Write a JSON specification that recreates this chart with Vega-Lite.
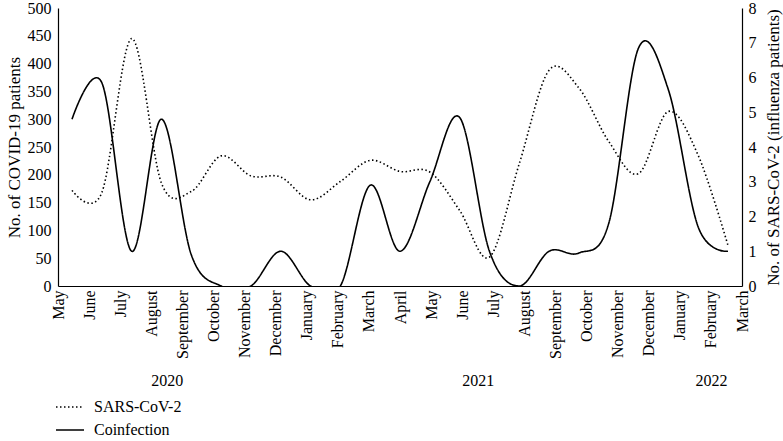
{
  "$schema": "https://vega.github.io/schema/vega-lite/v6.json",
  "width": 684,
  "height": 278,
  "autosize": {"type": "none"},
  "padding": {"left": 58, "top": 8, "right": 41, "bottom": 155},
  "config": {
    "font": "Liberation Serif",
    "view": {"stroke": null},
    "axis": {
      "labelFont": "Liberation Serif",
      "titleFont": "Liberation Serif",
      "labelFontSize": 16,
      "titleFontSize": 17,
      "titleFontWeight": "normal",
      "labelColor": "black",
      "titleColor": "black",
      "domainColor": "black",
      "domainWidth": 1.2,
      "tickColor": "black",
      "grid": false,
      "ticks": false
    }
  },
  "datasets": {
    "monthly": [
      {"month": "May 2020", "sars": 172, "coinf": 4.8},
      {"month": "June 2020", "sars": 168, "coinf": 5.85},
      {"month": "July 2020", "sars": 445, "coinf": 1},
      {"month": "August 2020", "sars": 185, "coinf": 4.8},
      {"month": "September 2020", "sars": 170, "coinf": 0.9},
      {"month": "October 2020", "sars": 234, "coinf": 0},
      {"month": "November 2020", "sars": 198, "coinf": 0},
      {"month": "December 2020", "sars": 196, "coinf": 1},
      {"month": "January 2021", "sars": 155, "coinf": 0},
      {"month": "February 2021", "sars": 188, "coinf": 0},
      {"month": "March 2021", "sars": 226, "coinf": 2.9},
      {"month": "April 2021", "sars": 206, "coinf": 1},
      {"month": "May 2021", "sars": 205, "coinf": 3},
      {"month": "June 2021", "sars": 136, "coinf": 4.85},
      {"month": "July 2021", "sars": 52, "coinf": 1},
      {"month": "August 2021", "sars": 220, "coinf": 0},
      {"month": "September 2021", "sars": 388, "coinf": 1},
      {"month": "October 2021", "sars": 356, "coinf": 0.95},
      {"month": "November 2021", "sars": 260, "coinf": 1.8},
      {"month": "December 2021", "sars": 202, "coinf": 6.85},
      {"month": "January 2022", "sars": 314, "coinf": 5.65},
      {"month": "February 2022", "sars": 235, "coinf": 1.7},
      {"month": "March 2022", "sars": 73, "coinf": 1}
    ],
    "years": [
      {"pos": 3.5, "year": "2020"},
      {"pos": 13.5, "year": "2021"},
      {"pos": 21, "year": "2022"}
    ]
  },
  "layer": [
    {
      "data": {"name": "monthly"},
      "mark": {"type": "line", "interpolate": "cardinal", "clip": true, "color": "black", "strokeWidth": 1.6},
      "encoding": {
        "x": {"field": "month", "type": "ordinal", "sort": null, "scale": {"type": "point", "padding": 0.47}, "axis": null},
        "y": {
          "field": "sars", "type": "quantitative",
          "scale": {"domain": [0, 500], "nice": false},
          "axis": {"orient": "left", "values": [0, 50, 100, 150, 200, 250, 300, 350, 400, 450, 500], "title": "No. of COVID-19 patients", "labelPadding": 7, "titlePadding": 4}
        },
        "strokeDash": {
          "datum": "SARS-CoV-2", "type": "nominal",
          "scale": {"domain": ["SARS-CoV-2", "Coinfection"], "range": [[1.5, 2.5], [1, 0]]},
          "legend": {
            "orient": "none", "legendX": -3, "legendY": 384, "title": null, "direction": "vertical",
            "symbolType": "stroke", "symbolSize": 784, "symbolStrokeWidth": 1.5, "symbolStrokeColor": "black",
            "labelFont": "Liberation Serif", "labelFontSize": 16, "labelColor": "black", "rowPadding": 0, "labelOffset": 9
          }
        }
      }
    },
    {
      "data": {"name": "monthly"},
      "mark": {"type": "line", "interpolate": "cardinal", "clip": true, "color": "black", "strokeWidth": 1.6},
      "encoding": {
        "x": {"field": "month", "type": "ordinal", "sort": null, "scale": {"type": "point", "padding": 0.47}, "axis": null},
        "y": {
          "field": "coinf", "type": "quantitative",
          "scale": {"domain": [0, 8], "nice": false},
          "axis": {"orient": "right", "values": [0, 1, 2, 3, 4, 5, 6, 7, 8], "title": "No. of SARS-CoV-2 (influenza patients)", "titleAngle": -90, "titleBaseline": "top", "labelPadding": 6, "titlePadding": 9}
        },
        "strokeDash": {"datum": "Coinfection", "type": "nominal"}
      }
    },
    {
      "data": {"name": "years"},
      "mark": {"type": "point", "opacity": 0},
      "encoding": {
        "x": {
          "field": "pos", "type": "quantitative",
          "scale": {"domain": [0, 22], "nice": false, "zero": false},
          "axis": {
            "orient": "bottom", "title": null, "values": [0, 1, 2, 3, 4, 5, 6, 7, 8, 9, 10, 11, 12, 13, 14, 15, 16, 17, 18, 19, 20, 21, 22],
            "labelExpr": "['May','June','July','August','September','October','November','December','January','February','March','April','May','June','July','August','September','October','November','December','January','February','March'][datum.value]",
            "labelAngle": -90, "labelPadding": 4, "labelFlush": false, "labelOverlap": false, "labelBound": false, "domain": true
          }
        }
      }
    },
    {
      "data": {"name": "years"},
      "mark": {"type": "point", "opacity": 0},
      "encoding": {
        "x": {
          "field": "pos", "type": "quantitative",
          "scale": {"domain": [0, 22], "nice": false, "zero": false},
          "axis": {
            "orient": "bottom", "title": null, "values": [3.5, 13.5, 21],
            "labelExpr": "datum.value < 10 ? '2020' : (datum.value < 20 ? '2021' : '2022')",
            "labelAngle": 0, "labelPadding": 2, "labelFlush": false, "labelOverlap": false, "domain": false, "offset": 84
          }
        }
      }
    }
  ],
  "resolve": {"scale": {"x": "independent", "y": "independent"}}
}
